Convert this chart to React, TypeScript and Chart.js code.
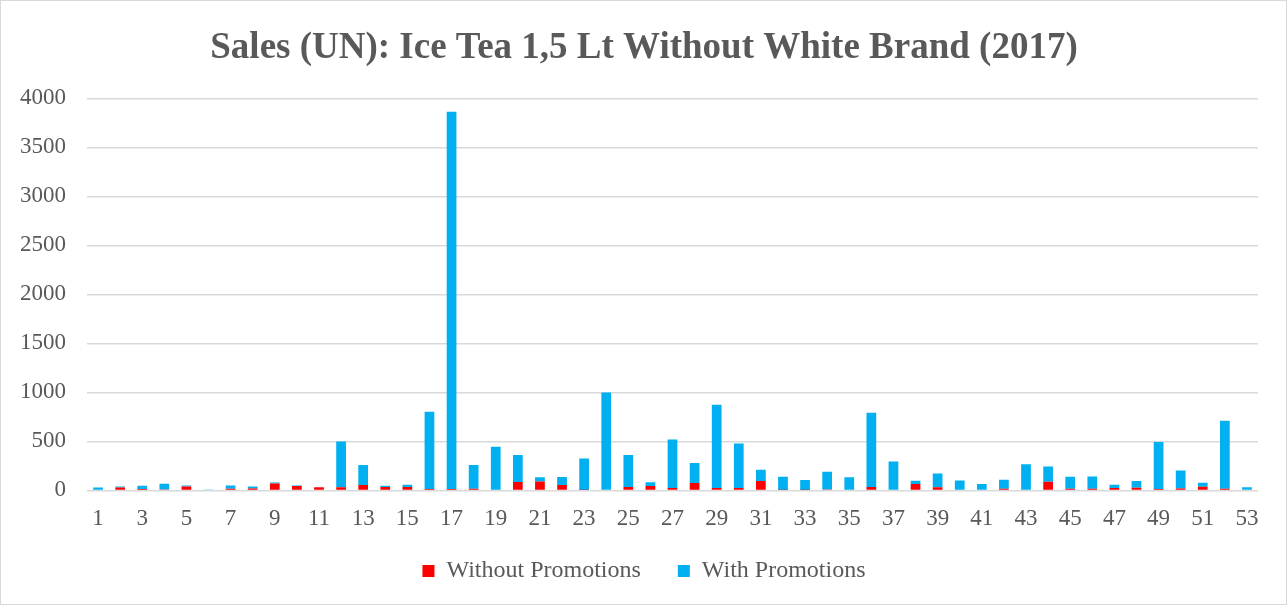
import React, { useEffect, useRef } from "react";
import { Chart, registerables } from "chart.js";

Chart.register(...registerables);

const weeks: string[] = Array.from({ length: 53 }, (_, i) => String(i + 1));

const withoutPromotions: number[] = [
  0, 30, 15, 10, 41, 0, 17, 20, 71, 44, 31, 31, 54, 34, 34, 14, 14, 17, 0, 85,
  92, 54, 3, 0, 34, 44, 24, 75, 24, 24, 95, 3, 3, 10, 0, 34, 0, 65, 31, 0,
  0, 17, 0, 88, 17, 17, 24, 27, 14, 20, 37, 17, 0,
];

const withPromotions: number[] = [
  30, 10, 33, 58, 10, 10, 34, 20, 10, 7, 0, 469, 204, 14, 24, 788, 3850, 241, 445, 275,
  41, 82, 323, 1000, 326, 38, 496, 204, 850, 455, 116, 136, 102, 180, 133, 758, 296, 34, 142, 102,
  65, 92, 268, 157, 122, 126, 34, 68, 479, 184, 41, 694, 31,
];

const yTicks: number[] = [0, 500, 1000, 1500, 2000, 2500, 3000, 3500, 4000];

const FONT = "'Liberation Serif', 'Times New Roman', serif";
const TEXT = "#595959";

export default function App() {
  const ref = useRef<HTMLCanvasElement | null>(null);

  useEffect(() => {
    document.body.style.margin = "0";
    if (!ref.current) return;
    const chart = new Chart(ref.current, {
      type: "bar",
      data: {
        labels: weeks,
        datasets: [
          {
            label: "Without Promotions",
            data: withoutPromotions,
            backgroundColor: "#FF0000",
            barPercentage: 0.44,
            categoryPercentage: 1,
          },
          {
            label: "With Promotions",
            data: withPromotions,
            backgroundColor: "#00B0F0",
            barPercentage: 0.44,
            categoryPercentage: 1,
          },
        ],
      },
      options: {
        animation: false,
        responsive: false,
        maintainAspectRatio: false,
        layout: { padding: { left: 15, right: 14, top: 0, bottom: 11 } },
        plugins: {
          title: {
            display: true,
            text: "Sales (UN): Ice Tea 1,5 Lt Without White Brand (2017)",
            color: TEXT,
            font: { family: FONT, size: 37, weight: "bold" },
            padding: { top: 25, bottom: 28 },
          },
          legend: {
            position: "bottom",
            labels: {
              color: TEXT,
              font: { family: FONT, size: 24 },
              boxWidth: 12,
              boxHeight: 12,
              padding: 19,
              generateLabels: (c: any) => {
                const items = Chart.defaults.plugins.legend.labels.generateLabels(c);
                if (items[0]) items[0].text = items[0].text + "   ";
                return items;
              },
            },
          },
          tooltip: { enabled: false },
        },
        scales: {
          x: {
            stacked: true,
            grid: { display: false },
            border: { display: false },
            ticks: {
              color: TEXT,
              font: { family: FONT, size: 23 },
              autoSkip: false,
              maxRotation: 0,
              padding: 7,
              callback: (_v: any, i: number) => (i % 2 === 0 ? weeks[i] : ""),
            },
          },
          y: {
            stacked: true,
            min: 0,
            max: 4000,
            afterBuildTicks: (axis: any) => {
              axis.ticks = yTicks.map((v) => ({ value: v }));
            },
            afterFit: (axis: any) => {
              axis.width = 71;
            },
            grid: { color: "#D9D9D9", lineWidth: 1.5, drawTicks: false },
            border: { display: false },
            ticks: {
              color: TEXT,
              font: { family: FONT, size: 23 },
              padding: 21,
              callback: (v: any) => String(v),
            },
          },
          yRightSpace: {
            type: "linear",
            position: "right",
            display: true,
            grid: { display: false },
            border: { display: false },
            ticks: { display: false },
            afterFit: (axis: any) => {
              axis.width = 14;
            },
          },
        },
      },
    });
    return () => chart.destroy();
  }, []);

  return (
    <div
      style={{
        width: 1287,
        height: 605,
        boxSizing: "border-box",
        border: "1px solid #D9D9D9",
        background: "#fff",
      }}
    >
      <canvas ref={ref} width={1285} height={603} />
    </div>
  );
}
